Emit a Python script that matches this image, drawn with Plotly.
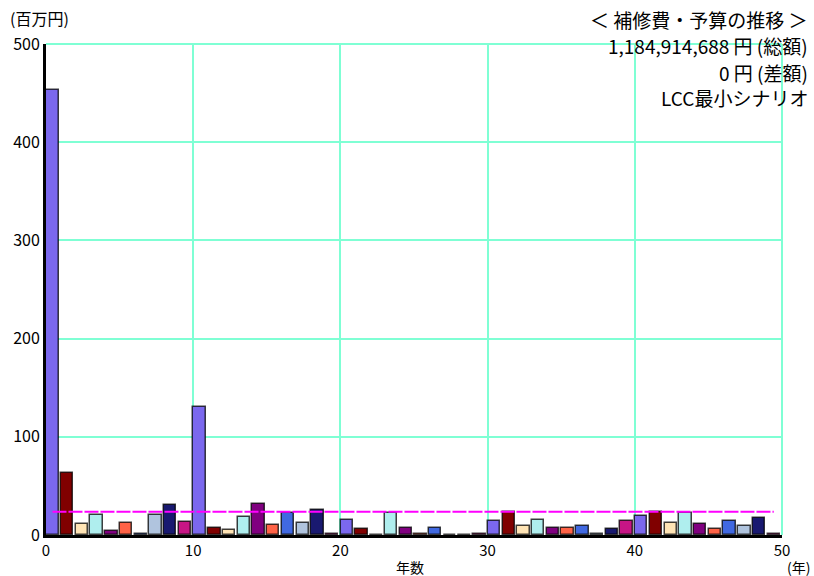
import plotly.graph_objects as go

years = list(range(50))
values = [453, 63.4, 10.9, 20.4, 4.0, 12.2, 1.5, 20.4, 30.5, 13.6,
          130.3, 7.1, 5.4, 18.7, 31.9, 10.2, 22.1, 12.2, 25.5, 1.5,
          15.3, 5.8, 0.0, 22.4, 7.1, 1.5, 7.1, 0.0, 0.0, 1.5,
          13.9, 23.4, 8.8, 15.3, 7.1, 7.1, 8.8, 1.5, 5.8, 13.9,
          19.0, 23.4, 12.2, 22.1, 10.9, 5.8, 13.9, 8.8, 17.3, 1.5]
palette = ["#7B68EE", "#800000", "#FFE4B5", "#AFEEEE", "#800080",
           "#FF6347", "#4169E1", "#B0C4DE", "#191970", "#C71585"]
average = 23.7
title_lines = ["＜ 補修費・予算の推移 ＞", "1,184,914,688 円 (総額)", "0 円 (差額)", "LCC最小シナリオ"]
x_ticks = [0, 10, 20, 30, 40, 50]
y_ticks = [0, 100, 200, 300, 400, 500]

FONT = "Noto Sans CJK JP, sans-serif"
GRID = "#7FFFD4"
colors = [palette[i % 10] for i in years]
xs = [y + 0.44 for y in years]

fig = go.Figure()
fig.add_trace(go.Bar(x=xs, y=values, width=0.84, marker=dict(color=colors,
                     line=dict(color="rgba(0,0,0,0.75)", width=1.5)), showlegend=False))
fig.add_trace(go.Scatter(x=[xs[0], xs[-1]], y=[average, average], mode="lines",
                         line=dict(color="#FF00FF", width=2, dash="14px,2px"), showlegend=False))

fig.update_layout(
    width=814, height=576, margin=dict(l=46, r=32, t=44, b=41),
    paper_bgcolor="white", plot_bgcolor="white",
    font=dict(family=FONT, size=16, color="black"),
    xaxis=dict(range=[0, 50], tickvals=x_ticks, showgrid=True, gridcolor=GRID, gridwidth=2,
               zeroline=False, showline=True, linecolor="black", linewidth=3, ticks="",
               tickfont=dict(size=15)),
    yaxis=dict(range=[0, 500], tickvals=y_ticks, showgrid=True, gridcolor=GRID, gridwidth=2,
               zeroline=False, showline=True, linecolor="black", linewidth=3, ticks="",
               tickfont=dict(size=16)),
    bargap=0,
)
fig.add_shape(type="line", xref="paper", yref="paper", x0=0, x1=1, y0=1, y1=1,
              line=dict(color=GRID, width=2), layer="below")
fig.add_shape(type="line", xref="paper", yref="paper", x0=1, x1=1, y0=0, y1=1,
              line=dict(color=GRID, width=2), layer="below")

ys_px = [20, 46, 72, 97]
for txt, yp in zip(title_lines, ys_px):
    fig.add_annotation(text=txt, xref="paper", yref="paper", x=(810 - 46) / 736, y=(535 - yp) / 491,
                       xanchor="right", yanchor="middle", showarrow=False, font=dict(size=19))
fig.add_annotation(text="(百万円)", xref="paper", yref="paper", x=(8 - 46) / 736, y=(535 - 18) / 491,
                   xanchor="left", yanchor="middle", showarrow=False, font=dict(size=16))
fig.add_annotation(text="年数", xref="paper", yref="paper", x=(410 - 46) / 736, y=(535 - 567) / 491,
                   xanchor="center", yanchor="middle", showarrow=False, font=dict(size=14))
fig.add_annotation(text="(年)", xref="paper", yref="paper", x=(812 - 46) / 736, y=(535 - 567) / 491,
                   xanchor="right", yanchor="middle", showarrow=False, font=dict(size=14))

fig.write_html("out.html", config={"displayModeBar": False},
               post_script="document.body.style.margin='0';document.body.style.overflow='hidden';")
